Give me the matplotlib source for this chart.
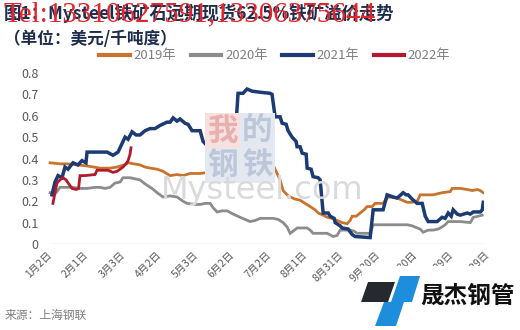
import matplotlib
matplotlib.use("Agg")
import matplotlib.pyplot as plt
from matplotlib.patches import Polygon, Rectangle

plt.rcParams['font.family'] = ['Noto Sans CJK SC', 'DejaVu Sans']

# ---- data (x = days from 1月2日, y = 美元/千吨度) ----
tick_days = [0, 30, 60, 90, 120, 150, 180, 210, 240, 270, 300, 330, 360]
tick_labels = ['1月2日', '2月1日', '3月3日', '4月2日', '5月3日', '6月2日', '7月2日',
               '8月1日', '8月31日', '9月30日', '10月30日', '11月29日', '12月29日']
y_ticks = [0, 0.1, 0.2, 0.3, 0.4, 0.5, 0.6, 0.7, 0.8]
y_tick_labels = ['0', '0.1', '0.2', '0.3', '0.4', '0.5', '0.6', '0.7', '0.8']

x2019 = [2.5, 10.7, 16.5, 25.5, 33.0, 43.7, 51.9, 57.7, 63.5, 66.8, 71.7, 76.6, 80.8, 84.9,
         90.7, 95.6, 101.4, 107.1, 112.1, 117.9, 126.1, 132.7, 140.1, 146.7, 153.3, 161.5,
         169.8, 173.9, 177.2, 183.8, 186.3, 189.5, 192.0, 194.5, 197.8, 200.3, 204.4, 208.5,
         212.6, 216.8, 220.9, 223.4, 227.5, 230.8, 234.9, 239.0, 243.1, 247.3, 249.7, 251.4,
         254.7, 258.0, 261.3, 263.7, 267.9, 270.3, 276.9, 279.4, 281.1, 288.5, 292.6, 296.7,
         300.8, 303.3, 305.0, 307.4, 318.1, 325.5, 332.2, 333.8, 340.4, 346.2, 350.3, 354.4,
         356.9, 359.4]
y2019 = [0.38, 0.375, 0.375, 0.37, 0.365, 0.355, 0.355, 0.36, 0.37, 0.38, 0.375, 0.37, 0.36,
         0.355, 0.35, 0.34, 0.32, 0.325, 0.32, 0.33, 0.33, 0.335, 0.34, 0.34, 0.345, 0.35,
         0.36, 0.38, 0.40, 0.40, 0.37, 0.33, 0.30, 0.25, 0.23, 0.22, 0.21, 0.205, 0.19, 0.175,
         0.16, 0.145, 0.135, 0.125, 0.12, 0.11, 0.10, 0.095, 0.11, 0.13, 0.13, 0.145, 0.16,
         0.175, 0.175, 0.19, 0.19, 0.21, 0.22, 0.215, 0.205, 0.195, 0.195, 0.20, 0.20, 0.23,
         0.23, 0.24, 0.245, 0.26, 0.26, 0.255, 0.25, 0.255, 0.25, 0.24]

x2020 = [2.5, 6.6, 8.2, 10.7, 21.4, 27.2, 33.0, 39.6, 43.7, 47.8, 51.9, 56.0, 60.2, 62.6,
         68.4, 72.5, 76.6, 79.9, 82.4, 86.5, 90.7, 95.6, 101.4, 107.1, 112.1, 115.4, 122.0,
         126.1, 130.2, 134.4, 136.8, 140.1, 144.2, 148.4, 153.3, 159.1, 163.2, 167.3, 171.4,
         175.6, 181.3, 186.3, 190.4, 194.5, 197.8, 200.3, 202.8, 206.0, 214.3, 216.8, 219.2,
         230.8, 235.7, 239.0, 241.5, 249.7, 253.0, 255.5, 266.2, 268.7, 296.7, 300.8, 305.0,
         307.4, 309.9, 314.0, 318.1, 322.3, 325.5, 328.0, 330.5, 340.4, 348.7, 351.2, 355.4,
         358.5]
y2020 = [0.24, 0.235, 0.245, 0.265, 0.265, 0.26, 0.26, 0.265, 0.265, 0.26, 0.265, 0.285,
         0.29, 0.31, 0.31, 0.305, 0.30, 0.285, 0.275, 0.26, 0.24, 0.22, 0.225, 0.22, 0.20,
         0.19, 0.185, 0.185, 0.19, 0.19, 0.17, 0.15, 0.155, 0.155, 0.14, 0.125, 0.115, 0.105,
         0.11, 0.12, 0.12, 0.12, 0.115, 0.10, 0.08, 0.05, 0.06, 0.075, 0.075, 0.065, 0.05,
         0.05, 0.035, 0.04, 0.065, 0.065, 0.06, 0.05, 0.05, 0.09, 0.09, 0.085, 0.075, 0.07,
         0.055, 0.065, 0.065, 0.07, 0.08, 0.09, 0.105, 0.105, 0.10, 0.125, 0.13, 0.135]

x2021 = [4.1, 6.6, 9.1, 12.4, 14.8, 17.3, 21.4, 25.5, 28.8, 32.1, 33.0, 41.2, 49.5, 54.4,
         58.5, 61.0, 64.3, 66.8, 70.1, 73.4, 76.6, 80.8, 84.9, 89.0, 93.2, 98.9, 101.4, 103.9,
         107.1, 109.6, 113.7, 116.2, 119.5, 126.1, 128.6, 131.9, 134.4, 137.6, 142.6, 145.9,
         149.2, 152.5, 155.8, 157.4, 161.5, 164.8, 169.0, 175.6, 183.8, 185.4, 187.9, 192.0,
         193.7, 197.0, 198.6, 201.9, 205.2, 206.0, 208.5, 210.2, 213.5, 214.3, 217.6, 219.2,
         223.4, 225.0, 227.5, 231.6, 233.3, 236.5, 237.4, 241.5, 243.1, 248.1, 251.3, 253.8,
         266.2, 268.7, 276.9, 280.2, 285.2, 288.5, 293.4, 295.9, 297.5, 300.8, 304.9, 309.1,
         311.6, 314.0, 321.4, 325.5, 328.0, 330.5, 333.0, 334.6, 337.9, 340.4, 346.2, 348.7,
         351.2, 357.0, 358.6, 359.4]
y2021 = [0.23, 0.29, 0.32, 0.31, 0.36, 0.35, 0.38, 0.37, 0.39, 0.38, 0.43, 0.43, 0.43, 0.415,
         0.43, 0.46, 0.50, 0.49, 0.525, 0.51, 0.51, 0.53, 0.54, 0.54, 0.555, 0.57, 0.57, 0.59,
         0.575, 0.585, 0.565, 0.56, 0.53, 0.53, 0.48, 0.46, 0.52, 0.50, 0.50, 0.52, 0.52,
         0.58, 0.57, 0.705, 0.705, 0.725, 0.715, 0.71, 0.705, 0.70, 0.595, 0.595, 0.565, 0.56,
         0.53, 0.50, 0.48, 0.455, 0.455, 0.425, 0.42, 0.355, 0.35, 0.315, 0.31, 0.30, 0.145,
         0.145, 0.13, 0.12, 0.10, 0.085, 0.075, 0.07, 0.045, 0.035, 0.03, 0.16, 0.16, 0.23,
         0.22, 0.215, 0.24, 0.23, 0.23, 0.21, 0.19, 0.19, 0.13, 0.105, 0.105, 0.125, 0.12,
         0.145, 0.13, 0.16, 0.14, 0.135, 0.145, 0.14, 0.15, 0.15, 0.16, 0.195]

x2022 = [4.9, 6.6, 8.2, 10.7, 13.2, 15.7, 18.1, 20.6, 24.0, 26.0, 27.2, 31.3, 39.6, 41.2,
         50.3, 54.4, 57.7, 60.2, 62.6, 65.1, 66.8, 68.4, 69.2]
y2022 = [0.19, 0.24, 0.285, 0.30, 0.31, 0.30, 0.28, 0.26, 0.255, 0.26, 0.32, 0.32, 0.325,
         0.345, 0.345, 0.335, 0.34, 0.35, 0.36, 0.375, 0.39, 0.42, 0.45]

series = [
    ('2019年', x2019, y2019, '#C8742E'),
    ('2020年', x2020, y2020, '#8C8C8C'),
    ('2021年', x2021, y2021, '#1B3B72'),
    ('2022年', x2022, y2022, '#B01A2C'),
]

W, H = 520, 330
fig = plt.figure(figsize=(W / 100, H / 100), dpi=100)
fig.patch.set_facecolor('white')

def fx(px):
    return px / W

def fy(py):
    return 1 - py / H

ax = fig.add_axes([fx(47), fy(244), fx(484) - fx(47), fy(73) - fy(244)])
ax.set_facecolor('none')

# watermark behind lines
wm_boxes = [(205, 113, '#F6E0E0', '我', '#E8AFAF'), (240, 113, '#E4E9F1', '的', '#BCC7DA'),
            (205, 148, '#E4E9F1', '钢', '#BCC7DA'), (240, 148, '#E4E9F1', '铁', '#BCC7DA')]
for (bx, by, bc, ch, tc) in wm_boxes:
    fig.patches.append(Rectangle((fx(bx), fy(by + 35)), 35 / W, 35 / H,
                                 transform=fig.transFigure, facecolor=bc,
                                 edgecolor='none', zorder=0))
    fig.text(fx(bx + 17.5), fy(by + 17.5), ch, fontsize=22, color=tc,
             ha='center', va='center', fontweight='bold', zorder=0.5)
fig.text(fx(262), fy(190), 'Mysteel.com', fontsize=23, color='#DADADA',
         ha='center', va='center', zorder=0.5, family=['DejaVu Sans'])

for name, xs, ys, c in series:
    lw = 2.5 if name == '2021年' else 2.0
    ax.plot(xs, ys, color=c, lw=lw, label=name, solid_joinstyle='miter', zorder=3)

ax.set_xlim(0, 360)
ax.set_ylim(0, 0.8)
for s in ax.spines.values():
    s.set_visible(False)
ax.axhline(0, color='#D9D9D9', lw=1, zorder=1, xmin=0.007, xmax=0.998)
ax.set_yticks(y_ticks)
ax.set_yticklabels(y_tick_labels)
ax.set_xticks(tick_days)
ax.set_xticklabels(tick_labels, rotation=45, ha='right', rotation_mode='anchor')
ax.tick_params(axis='y', length=0, labelsize=9, labelcolor='#595959', pad=6)
ax.tick_params(axis='x', length=0, labelsize=7.5, labelcolor='#595959', pad=4)

leg = fig.legend(loc='center', bbox_to_anchor=(fx(275), fy(56)), ncol=4, frameon=False,
                 fontsize=9.5, handlelength=2.3, columnspacing=1.1, handletextpad=0.3)
for t in leg.get_texts():
    t.set_color('#7F7F7F')
for l in leg.get_lines():
    l.set_linewidth(3)

# title block
fig.text(fx(4), fy(13), '图1：Mysteel铁矿石远期现货62.5%铁矿溢价走势', fontsize=12.5,
         fontweight='bold', color='#1F2D4D', ha='left', va='center')
fig.text(fx(3), fy(14), 'Tel:13310627591,13306375644', fontsize=21, color='#E3262C',
         ha='left', va='center', family=['Liberation Serif'], zorder=5)
fig.text(fx(4), fy(39), '（单位：美元/千吨度）', fontsize=12, fontweight='bold',
         color='#1F2D4D', ha='left', va='center')

# source
fig.text(fx(5), fy(315), '来源：上海钢联', fontsize=8.5, color='#7F7F7F', ha='left', va='center')

# logo (covers part of last tick labels)
fig.patches.append(Rectangle((fx(362), fy(330)), (W - 362) / W, (330 - 266) / H,
                             transform=fig.transFigure, facecolor='white', edgecolor='none',
                             zorder=6))
logo_polys = [
    ([(368, 282), (395, 282), (388, 302), (361, 302)], '#262A30'),
    ([(400, 276), (420, 276), (412, 302), (391, 302)], '#1E8EDC'),
    ([(384, 302), (404, 302), (396, 326), (375, 326)], '#1E8EDC'),
]
for pts, col in logo_polys:
    fig.patches.append(Polygon([(fx(a), fy(b)) for a, b in pts], closed=True,
                               transform=fig.transFigure, facecolor=col, edgecolor='none',
                               zorder=7))
fig.text(fx(467), fy(296), '晟杰钢管', fontsize=17, fontweight='bold', color='#111111',
         ha='center', va='center', zorder=8)

fig.savefig('out.png', dpi=100)
